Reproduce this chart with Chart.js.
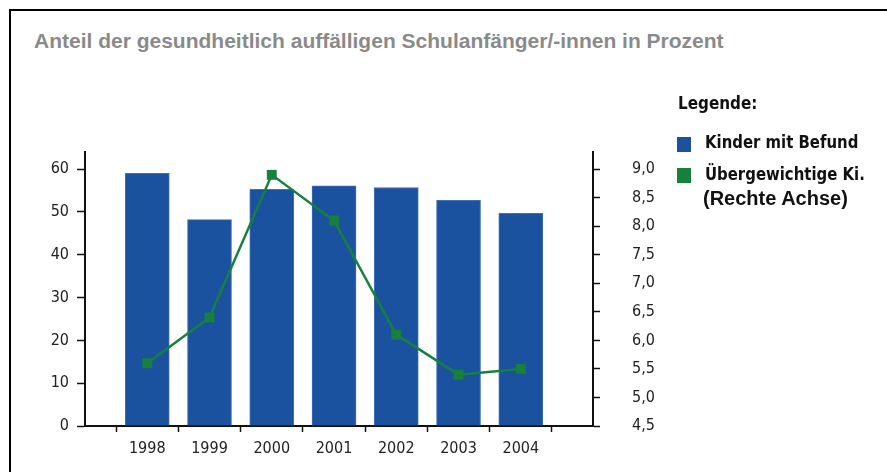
<!DOCTYPE html>
<html lang="de">
<head>
<meta charset="utf-8">
<title>Anteil der gesundheitlich auffälligen Schulanfänger/-innen</title>
<script src="https://cdn.jsdelivr.net/npm/chart.js@4/dist/chart.umd.min.js"></script>
<style>
  html, body { margin: 0; padding: 0; background: #fff; }
  #wrap { position: relative; width: 887px; height: 472px; overflow: hidden; }
  #frame { position: absolute; left: 9px; top: 9px; width: 900px; height: 500px;
           border-top: 2px solid #000; border-left: 2px solid #000; }
  #title { position: absolute; left: 34px; top: 29px; margin: 0; line-height: 24px;
           font: bold 21px "Liberation Sans", Arial, sans-serif; color: #8a8a8a; white-space: nowrap; }
  #legend { position: absolute; left: 0; top: 0; width: 887px; height: 472px;
            font-family: "DejaVu Sans", sans-serif; font-stretch: condensed;
            font-weight: bold; color: #111; }
  #legend .t { position: absolute; white-space: nowrap; line-height: 20px; transform-origin: 0 50%; }
  #legend .sw { position: absolute; width: 14px; height: 15px; }
  #legend .note { font: bold 20px "Liberation Sans", Arial, sans-serif; font-stretch: normal; }
  canvas { position: absolute; left: 0; top: 0; }
</style>
</head>
<body>
<div id="wrap">
  <div id="frame"></div>
  <p id="title">Anteil der gesundheitlich auffälligen Schulanfänger/-innen in Prozent</p>
  <canvas id="chart" width="887" height="472"></canvas>
  <div id="legend">
    <div class="t" style="left:678px; top:93px; font-size:18px; transform:scaleX(0.94);">Legende:</div>
    <span class="sw" style="left:677px; top:137px; background:#1a52a0"></span>
    <div class="t" style="left:705px; top:132px; font-size:18px; transform:scaleX(0.92);">Kinder mit Befund</div>
    <span class="sw" style="left:677px; top:168px; background:#17803d"></span>
    <div class="t" style="left:705px; top:164px; font-size:18px; transform:scaleX(0.92);">Übergewichtige Ki.</div>
    <div class="t note" style="left:703px; top:187px;">(Rechte Achse)</div>
  </div>
</div>
<script>
// Jahrgänge der Einschulungsuntersuchung
const years = [1998, 1999, 2000, 2001, 2002, 2003, 2004];
// Kinder mit Befund, in Prozent (linke Achse)
const kinderMitBefund = [59.0, 48.2, 55.3, 56.1, 55.7, 52.7, 49.7];
// Übergewichtige Kinder, in Prozent (rechte Achse)
const uebergewichtig = [5.6, 6.4, 8.9, 8.1, 6.1, 5.4, 5.5];
// Beschriftete Skalenwerte
const leftTicks = [0, 10, 20, 30, 40, 50, 60];
const rightTicks = [4.5, 5.0, 5.5, 6.0, 6.5, 7.0, 7.5, 8.0, 8.5, 9.0];

const BLUE = '#1a52a0';
const GREEN = '#17803d';
// schmale Schrift für die Achsenbeschriftung ("condensed" landet im CSS-Font-String)
const tickFont = { family: "'DejaVu Sans', sans-serif", size: 16, style: 'normal', weight: 'condensed' };

const fixedTicks = list => scale => { scale.ticks = list.map(v => ({ value: v })); };

new Chart(document.getElementById('chart'), {
  type: 'bar',
  data: {
    datasets: [
      {
        type: 'line',
        label: 'Übergewichtige Ki.',
        data: years.map((y, i) => ({ x: y, y: uebergewichtig[i] })),
        yAxisID: 'y1',
        borderColor: GREEN,
        backgroundColor: GREEN,
        borderWidth: 2.5,
        pointStyle: 'rect',
        pointRadius: 7,
        pointBorderWidth: 0,
        tension: 0,
        order: 0
      },
      {
        type: 'bar',
        label: 'Kinder mit Befund',
        data: years.map((y, i) => ({ x: y, y: kinderMitBefund[i] })),
        yAxisID: 'y',
        backgroundColor: BLUE,
        borderColor: '#3f6fb5',
        borderWidth: 1,
        barThickness: 44,
        order: 1
      }
    ]
  },
  options: {
    responsive: false,
    animation: false,
    events: [],
    layout: { padding: { left: 0, right: 214, top: 152, bottom: 0 } },
    plugins: { legend: { display: false }, title: { display: false }, tooltip: { enabled: false } },
    scales: {
      x: {
        type: 'linear',
        min: 1997,
        max: 2005.16,
        offset: false,
        afterBuildTicks: fixedTicks(years),
        afterFit: s => { s.height = 46; },
        border: { display: true, color: '#111', width: 2 },
        grid: { display: true, drawOnChartArea: false, drawTicks: true, tickLength: 6, tickColor: '#111', tickWidth: 1.5 },
        ticks: { font: tickFont, color: '#222', padding: 7, maxRotation: 0, autoSkip: false, callback: v => String(v) }
      },
      y: {
        position: 'left',
        min: 0,
        max: 64,
        afterBuildTicks: fixedTicks(leftTicks),
        afterFit: s => { s.width = 85; },
        border: { display: true, color: '#111', width: 2 },
        grid: { display: true, drawOnChartArea: false, tickLength: 8, tickColor: '#111', tickWidth: 1.5 },
        ticks: { font: tickFont, color: '#222', padding: 8, callback: v => String(v) }
      },
      y1: {
        position: 'right',
        min: 4.5,
        max: 9.3,
        afterBuildTicks: fixedTicks(rightTicks),
        afterFit: s => { s.width = 80; },
        border: { display: true, color: '#111', width: 2 },
        grid: { display: true, drawOnChartArea: false, tickLength: 7, tickColor: '#111', tickWidth: 1.5 },
        ticks: { font: tickFont, color: '#222', padding: 32, callback: v => v.toFixed(1).replace('.', ',') }
      }
    }
  }
});
</script>
</body>
</html>
